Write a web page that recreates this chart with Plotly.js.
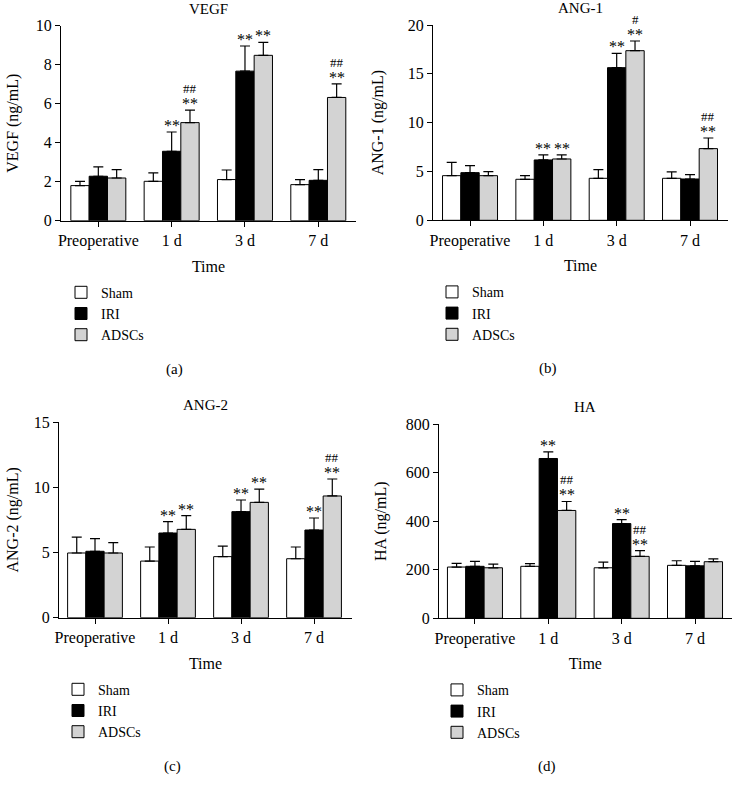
<!DOCTYPE html>
<html>
<head>
<meta charset="utf-8">
<script src="https://cdn.plot.ly/plotly-3.0.1.min.js"></script>
<style>html,body{margin:0;padding:0;background:#fff}</style>
</head>
<body>
<div id="chart" style="width:733px;height:788px;"></div>
<script>
const timePoints = ['Preoperative', '1 d', '3 d', '7 d'];
const groups = ['Sham', 'IRI', 'ADSCs'];

// VEGF (ng/mL)
const vegfSham = [1.80, 2.02, 2.11, 1.85];
const vegfShamErr = [0.22, 0.43, 0.49, 0.26];
const vegfIri = [2.28, 3.56, 7.67, 2.07];
const vegfIriErr = [0.48, 0.99, 1.29, 0.55];
const vegfAdsc = [2.19, 5.03, 8.48, 6.32];
const vegfAdscErr = [0.43, 0.64, 0.66, 0.70];

// ANG-1 (ng/mL)
const ang1Sham = [4.57, 4.20, 4.30, 4.30];
const ang1ShamErr = [1.37, 0.37, 0.89, 0.65];
const ang1Iri = [4.88, 6.18, 15.63, 4.23];
const ang1IriErr = [0.72, 0.51, 1.47, 0.45];
const ang1Adsc = [4.57, 6.28, 17.37, 7.34];
const ang1AdscErr = [0.41, 0.41, 0.99, 1.09];

// ANG-2 (ng/mL)
const ang2Sham = [4.96, 4.34, 4.68, 4.52];
const ang2ShamErr = [1.22, 1.08, 0.81, 0.90];
const ang2Iri = [5.09, 6.49, 8.13, 6.72];
const ang2IriErr = [0.97, 0.87, 0.89, 0.92];
const ang2Adsc = [4.96, 6.77, 8.84, 9.33];
const ang2AdscErr = [0.79, 1.05, 1.02, 1.30];

// HA (ng/mL)
const haSham = [211, 214, 208, 218];
const haShamErr = [15, 11, 23, 19];
const haIri = [214, 658, 390, 216];
const haIriErr = [20, 27, 16, 18];
const haAdsc = [208, 444, 255, 233];
const haAdscErr = [15, 37, 24, 12];

// significance marks (vs Sham: **, vs IRI: #)
const vegfIriStar = ['', '**', '**', ''];
const vegfAdscStar = ['', '**', '**', '**'];
const vegfAdscHash = ['', '##', '', '##'];
const ang1IriStar = ['', '**', '**', ''];
const ang1AdscStar = ['', '**', '**', '**'];
const ang1AdscHash = ['', '', '#', '##'];
const ang2IriStar = ['', '**', '**', '**'];
const ang2AdscStar = ['', '**', '**', '**'];
const ang2AdscHash = ['', '', '', '##'];
const haIriStar = ['', '**', '**', ''];
const haAdscStar = ['', '**', '**', ''];
const haAdscHash = ['', '##', '##', ''];

const serif = 'Liberation Serif, Times New Roman, serif';
const fills = ['#ffffff', '#000000', '#d3d3d3'];
function f(size) { return { family: serif, size: size, color: '#000' }; }

const panels = [
  { s: '', title: 'VEGF', ytitle: 'VEGF (ng/mL)', ymax: 10, dtick: 2,
    vals: [vegfSham, vegfIri, vegfAdsc], errs: [vegfShamErr, vegfIriErr, vegfAdscErr],
    iriStar: vegfIriStar, adscStar: vegfAdscStar, adscHash: vegfAdscHash },
  { s: '2', title: 'ANG-1', ytitle: 'ANG-1 (ng/mL)', ymax: 20, dtick: 5,
    vals: [ang1Sham, ang1Iri, ang1Adsc], errs: [ang1ShamErr, ang1IriErr, ang1AdscErr],
    iriStar: ang1IriStar, adscStar: ang1AdscStar, adscHash: ang1AdscHash },
  { s: '3', title: 'ANG-2', ytitle: 'ANG-2 (ng/mL)', ymax: 15, dtick: 5,
    vals: [ang2Sham, ang2Iri, ang2Adsc], errs: [ang2ShamErr, ang2IriErr, ang2AdscErr],
    iriStar: ang2IriStar, adscStar: ang2AdscStar, adscHash: ang2AdscHash },
  { s: '4', title: 'HA', ytitle: 'HA (ng/mL)', ymax: 800, dtick: 200,
    vals: [haSham, haIri, haAdsc], errs: [haShamErr, haIriErr, haAdscErr],
    iriStar: haIriStar, adscStar: haAdscStar, adscHash: haAdscHash }
];

// plot boxes in px: left, right, top, bottom, x range, y-title standoff, legend left, label shift
const W = 733, H = 788;
const boxes = [
  { l: 61, r: 356, t: 25.7, b: 220.7, xr: [-0.509, 3.514], ys: 13, lx: 61, lab: -34 },
  { l: 433, r: 728, t: 25, b: 220.3, xr: [-0.505, 3.518], ys: 20, lx: 432, lab: -33 },
  { l: 59, r: 352, t: 422, b: 617.7, xr: [-0.493, 3.52], ys: 11, lx: 58, lab: -33 },
  { l: 439, r: 731.7, t: 424, b: 618.3, xr: [-0.49, 3.5], ys: 15, lx: 437, lab: -38 }
];

const data = [];
const annotations = [];
const layout = {
  width: W, height: H,
  margin: { l: 0, r: 0, t: 0, b: 0 },
  paper_bgcolor: '#fff', plot_bgcolor: '#fff',
  font: f(15),
  barmode: 'group', bargap: 0.25, bargroupgap: 0,
  showlegend: true
};

panels.forEach(function (p, k) {
  const bx = boxes[k];
  const xa = 'x' + p.s, ya = 'y' + p.s;
  const lg = 'legend' + p.s;
  groups.forEach(function (g, j) {
    data.push({
      type: 'bar', name: g, x: timePoints, y: p.vals[j],
      xaxis: xa, yaxis: ya, legend: lg,
      marker: { color: fills[j], line: { color: '#000', width: 1 } },
      error_y: { type: 'data', array: p.errs[j], arrayminus: [0, 0, 0, 0], symmetric: false,
                 color: '#000', thickness: 1.2, width: 5 },
      hoverinfo: 'x+y+name'
    });
  });
  layout['xaxis' + p.s] = {
    domain: [bx.l / W, bx.r / W], anchor: ya, type: 'category', range: bx.xr,
    showline: true, linecolor: '#000', linewidth: 1.2, ticks: 'outside', ticklen: 5,
    tickcolor: '#000', tickwidth: 1.2, showgrid: false, zeroline: false,
    tickfont: f(16), title: { text: 'Time', font: f(16), standoff: 11 }
  };
  layout['yaxis' + p.s] = {
    domain: [1 - bx.b / H, 1 - bx.t / H], anchor: xa, range: [0, p.ymax], dtick: p.dtick,
    showline: true, linecolor: '#000', linewidth: 1.2, ticks: 'outside', ticklen: 5,
    tickcolor: '#000', tickwidth: 1.2, showgrid: false, zeroline: false,
    tickfont: f(16), title: { text: p.ytitle, font: f(16), standoff: bx.ys }
  };
  layout[lg] = {
    x: bx.lx / W, y: 1 - (bx.b + 56) / H, xanchor: 'left', yanchor: 'top',
    bgcolor: 'rgba(0,0,0,0)', font: f(14), tracegroupgap: 0
  };
  // subplot title
  annotations.push({ xref: 'paper', yref: 'paper', x: (bx.l + bx.r) / 2 / W, y: 1 - (bx.t - 17) / H,
    text: p.title, showarrow: false, font: f(15), xanchor: 'center', yanchor: 'middle' });
  // panel label
  annotations.push({ xref: 'paper', yref: 'paper', x: ((bx.l + bx.r) / 2 + bx.lab) / W, y: 1 - (bx.b + 148.5) / H,
    text: '(' + 'abcd'[k] + ')', showarrow: false, font: f(15), xanchor: 'center', yanchor: 'middle' });
  // significance marks
  timePoints.forEach(function (t, i) {
    if (p.iriStar[i]) {
      annotations.push({ xref: xa, yref: ya, x: i, y: p.vals[1][i] + p.errs[1][i],
        text: p.iriStar[i], showarrow: false, yanchor: 'bottom', yshift: -4, font: f(16) });
    }
    if (p.adscStar[i]) {
      annotations.push({ xref: xa, yref: ya, x: i + 0.25, y: p.vals[2][i] + p.errs[2][i],
        text: p.adscStar[i], showarrow: false, yanchor: 'bottom', yshift: -4, font: f(16) });
    }
    if (p.adscHash[i]) {
      annotations.push({ xref: xa, yref: ya, x: i + 0.25, y: p.vals[2][i] + p.errs[2][i],
        text: p.adscHash[i], showarrow: false, yanchor: 'bottom', yshift: 12, font: f(13) });
    }
  });
});

layout.annotations = annotations;

Plotly.newPlot('chart', data, layout, { displayModeBar: false, responsive: false });
</script>
</body>
</html>
